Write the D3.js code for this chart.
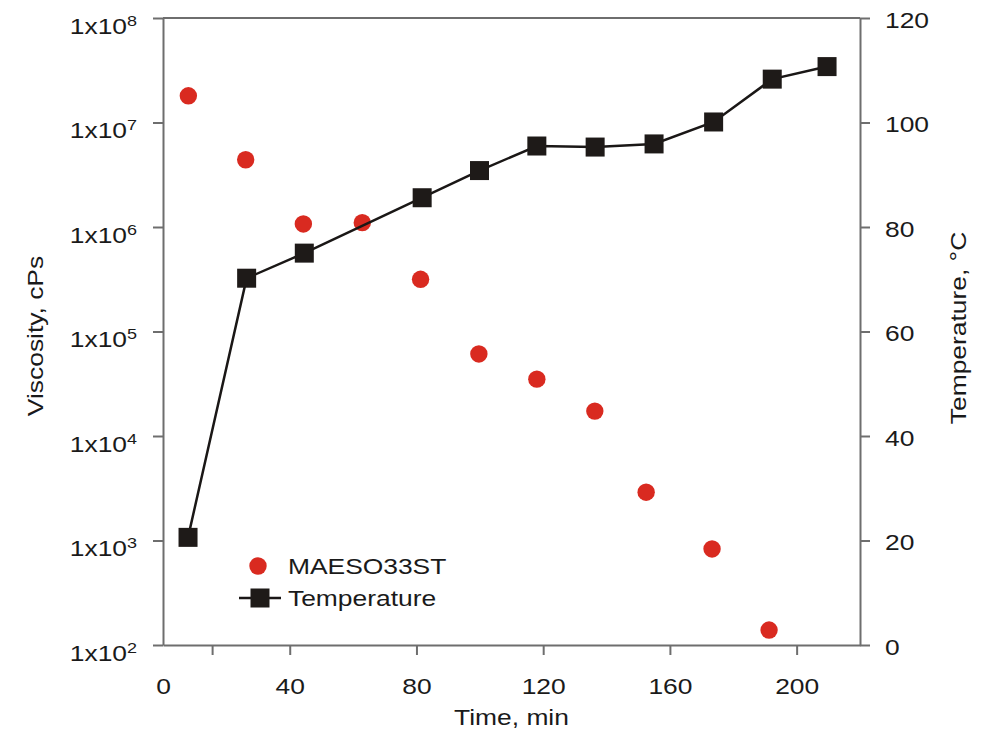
<!DOCTYPE html>
<html>
<head>
<meta charset="utf-8">
<script src="https://cdn.jsdelivr.net/npm/d3@7"></script>
<style>
  body { margin: 0; background: #fff; }
  text { font-family: "Liberation Sans", Arial, sans-serif; fill: #1a1a1a; }
</style>
</head>
<body>
<svg id="chart" width="992" height="734"></svg>
<script>
// viscosity series (MAESO33ST)
const timeVisc = [8.0, 26.1, 44.3, 62.9, 81.3, 99.7, 118, 136.3, 152.5, 173.3, 191.3];
const viscosity = [1.8e7, 4.4e6, 1.07e6, 1.1e6, 3.16e5, 6.1e4, 3.5e4, 1.73e4, 2.9e3, 830, 139];

// temperature series
const timeTemp = [7.9, 26.4, 44.6, 81.8, 99.9, 118, 136.4, 155, 173.8, 192.3, 209.6];
const temperature = [20.6, 70.2, 75.0, 85.6, 90.8, 95.5, 95.3, 95.9, 100.1, 108.3, 110.7];

// ticks
const xTickMarks = [15.5, 40, 80, 120, 160, 200]; // the original has an odd first tick
const xTickLabels = [0, 40, 80, 120, 160, 200];
const viscTicks = [1e2, 1e3, 1e4, 1e5, 1e6, 1e7, 1e8];
const tempTicks = [0, 20, 40, 60, 80, 100, 120];

const svg = d3.select("#chart");
const mLeft = 163, mRight = 860, mTop = 18, mBottom = 645;
const axisColor = "#6e6e6e";
const fs = "22px";
const SX = 1.2; // the original lettering is wider than Arial

const x = d3.scaleLinear().domain([0, 220]).range([mLeft, mRight]);
const yV = d3.scaleLog().domain([1e2, 1e8]).range([mBottom, mTop]);
const yT = d3.scaleLinear().domain([0, 120]).range([mBottom, mTop]);

// widen text horizontally around its own anchor
function stretch(sel) {
  sel.each(function () {
    const t = d3.select(this);
    const xx = +t.attr("x") || 0;
    t.attr("x", xx / SX).attr("transform", `scale(${SX},1)`);
  });
}

// frame top line
svg.append("line")
  .attr("x1", mLeft).attr("x2", mRight)
  .attr("y1", mTop).attr("y2", mTop)
  .attr("stroke", axisColor).attr("stroke-width", 2);

function styleAxis(g) {
  g.select(".domain").attr("stroke", axisColor).attr("stroke-width", 2);
  g.selectAll(".tick line").attr("stroke", axisColor).attr("stroke-width", 2);
  g.selectAll(".tick text").style("font-size", fs).attr("fill", "#1a1a1a");
}

// x axis: tick marks and labels drawn separately
svg.append("g")
  .attr("transform", `translate(0,${mBottom})`)
  .call(d3.axisBottom(x).tickValues(xTickMarks).tickSize(10).tickSizeOuter(0).tickFormat(""))
  .call(styleAxis);
svg.append("g")
  .attr("transform", `translate(0,${mBottom})`)
  .call(d3.axisBottom(x).tickValues(xTickLabels).tickSize(0).tickPadding(33))
  .call(g => g.select(".domain").remove())
  .call(g => g.selectAll(".tick line").remove())
  .call(g => g.selectAll(".tick text").style("font-size", fs).attr("fill", "#1a1a1a").call(stretch));

// left log axis with 1x10^n labels
const gL = svg.append("g")
  .attr("transform", `translate(${mLeft},0)`)
  .call(d3.axisLeft(yV).tickValues(viscTicks).tickSize(10).tickSizeOuter(0).tickPadding(16))
  .call(styleAxis);
gL.selectAll(".tick text")
  .text(null)
  .attr("dy", "15")
  .each(function (d) {
    const t = d3.select(this);
    t.append("tspan").text("1x10");
    t.append("tspan").attr("dy", "-8").style("font-size", "15px").text(Math.round(Math.log10(d)));
  })
  .call(stretch);

// right temperature axis
svg.append("g")
  .attr("transform", `translate(${mRight},0)`)
  .call(d3.axisRight(yT).tickValues(tempTicks).tickSize(10).tickSizeOuter(0).tickPadding(15))
  .call(styleAxis)
  .call(g => g.selectAll(".tick text").attr("dy", "9").call(stretch));

// axis titles
svg.append("text")
  .attr("transform", `translate(${(mLeft + mRight) / 2},725) scale(${SX},1)`)
  .attr("text-anchor", "middle").style("font-size", fs)
  .text("Time, min");
svg.append("text")
  .attr("transform", `translate(43,336) rotate(-90) scale(${SX},1)`)
  .attr("text-anchor", "middle").style("font-size", fs)
  .text("Viscosity, cPs");
svg.append("text")
  .attr("transform", `translate(966,328) rotate(-90) scale(${SX},1)`)
  .attr("text-anchor", "middle").style("font-size", fs)
  .text("Temperature, °C");

// viscosity dots
const red = "#d92a20";
svg.append("g").selectAll("circle")
  .data(d3.zip(timeVisc, viscosity))
  .join("circle")
  .attr("cx", d => x(d[0]))
  .attr("cy", d => yV(d[1]))
  .attr("r", 8.7)
  .attr("fill", red);

// temperature line + squares
const tempData = d3.zip(timeTemp, temperature);
svg.append("path")
  .datum(tempData)
  .attr("fill", "none")
  .attr("stroke", "#1a1716")
  .attr("stroke-width", 2.5)
  .attr("d", d3.line().x(d => x(d[0])).y(d => yT(d[1])));

const sq = 19;
svg.append("g").selectAll("rect")
  .data(tempData)
  .join("rect")
  .attr("x", d => x(d[0]) - sq / 2)
  .attr("y", d => yT(d[1]) - sq / 2)
  .attr("width", sq).attr("height", sq)
  .attr("fill", "#1e1a18");

// legend
const lg = svg.append("g");
lg.append("circle").attr("cx", 258).attr("cy", 566).attr("r", 8.7).attr("fill", red);
lg.append("text").attr("transform", `translate(288,574) scale(${SX},1)`)
  .style("font-size", fs).text("MAESO33ST");
lg.append("line").attr("x1", 239).attr("x2", 281).attr("y1", 598).attr("y2", 598)
  .attr("stroke", "#1a1716").attr("stroke-width", 2.5);
lg.append("rect").attr("x", 260 - sq / 2).attr("y", 598 - sq / 2)
  .attr("width", sq).attr("height", sq).attr("fill", "#1e1a18");
lg.append("text").attr("transform", `translate(288,606) scale(${SX},1)`)
  .style("font-size", fs).text("Temperature");
</script>
</body>
</html>
